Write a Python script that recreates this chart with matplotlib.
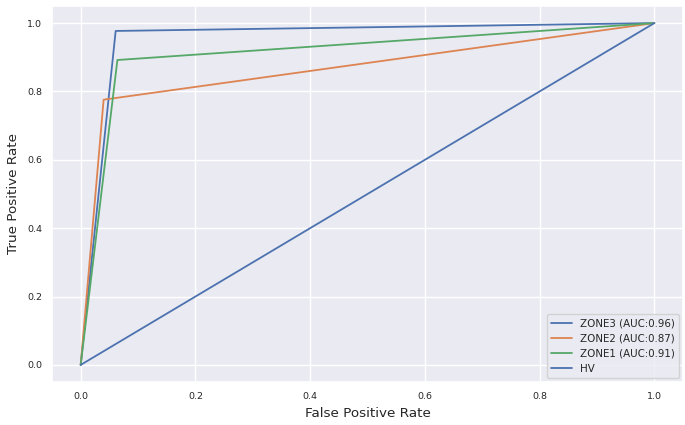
import numpy as np
import matplotlib
matplotlib.use("Agg")
import matplotlib.pyplot as plt
import seaborn as sns

sns.set_theme(style="darkgrid")
plt.rcParams['font.family'] = ['DejaVu Sans']

# ROC curve points
fpr_zone3 = [0.0, 0.061, 1.0]
tpr_zone3 = [0.0, 0.977, 1.0]
fpr_zone2 = [0.0, 0.040, 1.0]
tpr_zone2 = [0.0, 0.776, 1.0]
fpr_zone1 = [0.0, 0.064, 1.0]
tpr_zone1 = [0.0, 0.892, 1.0]
fpr_hv = [0.0, 1.0]
tpr_hv = [0.0, 1.0]

labels = ["ZONE3 (AUC:0.96)", "ZONE2 (AUC:0.87)", "ZONE1 (AUC:0.91)", "HV"]

pal = sns.color_palette()
fig = plt.figure(figsize=(6.85, 4.25), dpi=100)
ax = fig.add_axes([52/685, 1 - 382/425, 631/685, 376/425])

ax.plot(fpr_zone3, tpr_zone3, color=pal[0], lw=1.3, label=labels[0])
ax.plot(fpr_zone2, tpr_zone2, color=pal[1], lw=1.3, label=labels[1])
ax.plot(fpr_zone1, tpr_zone1, color=pal[2], lw=1.3, label=labels[2])
ax.plot(fpr_hv, tpr_hv, color=pal[0], lw=1.3, label=labels[3])

ax.tick_params(labelsize=6.8, length=0, pad=7)
ax.set_xlabel("False Positive Rate", fontsize=9.7, labelpad=4.5)
ax.set_ylabel("True Positive Rate", fontsize=9.7, labelpad=5)
ax.legend(loc="lower right", fontsize=7.4, borderaxespad=0.4)

fig.savefig("out.png", dpi=100)
